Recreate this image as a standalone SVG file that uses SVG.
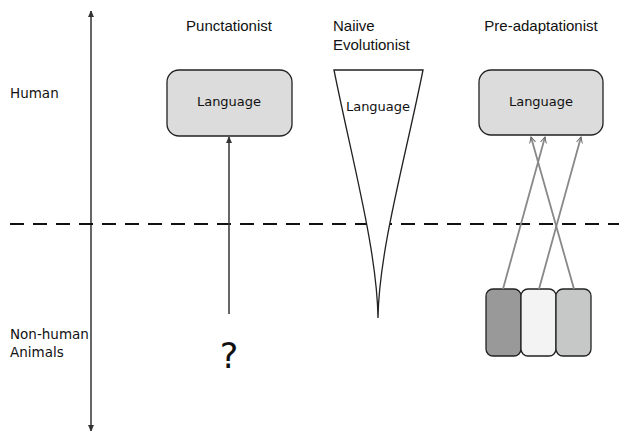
<svg xmlns="http://www.w3.org/2000/svg" width="619" height="434" viewBox="0 0 619 434">
<defs>
<marker id="ah" markerWidth="8" markerHeight="8" refX="6" refY="4" orient="auto-start-reverse" markerUnits="userSpaceOnUse">
<path d="M0,1.5 L6,4 L0,6.5 Z" fill="#333" stroke="#333" stroke-width="0.8"/>
</marker>
<marker id="ahg" markerWidth="8" markerHeight="8" refX="6" refY="4" orient="auto" markerUnits="userSpaceOnUse">
<path d="M0,1 L6,4 L0,7" fill="none" stroke="#666" stroke-width="1"/>
</marker>
</defs>
<style>
.hdr{font-family:"Liberation Sans",Arial,sans-serif;font-size:15px;fill:#111}
.side{font-family:"DejaVu Sans",Verdana,sans-serif;font-size:13.5px;fill:#111}
.lang{font-family:"DejaVu Sans",Verdana,sans-serif;font-size:13px;fill:#111;text-anchor:middle}
.box{fill:#dcdcdc;stroke:#222;stroke-width:1.3}
.conn{stroke:#333;stroke-width:1.5;fill:none}
.gconn{stroke:#888;stroke-width:1.8;fill:none}
</style>
<rect width="619" height="434" fill="#fff"/>
<g id="axis">
<line x1="91" y1="11" x2="91" y2="431" class="conn" marker-start="url(#ah)" marker-end="url(#ah)"/>
</g>
<line id="divider" x1="10" y1="224" x2="619" y2="224" stroke="#111" stroke-width="2.2" stroke-dasharray="14,9"/>
<g id="labels">
<text class="side" x="10" y="98">Human</text>
<text class="side" x="10" y="339">Non-human</text>
<text class="side" x="10" y="357">Animals</text>
<text class="hdr" x="229" y="31" text-anchor="middle">Punctationist</text>
<text class="hdr" x="333" y="31">Naiive</text>
<text class="hdr" x="333" y="50">Evolutionist</text>
<text class="hdr" x="541" y="31" text-anchor="middle">Pre-adaptationist</text>
</g>
<g id="punct-language">
<rect class="box" x="167" y="70" width="125" height="66" rx="12"/>
<text class="lang" x="229" y="106">Language</text>
</g>
<g id="question">
<text x="229" y="368" font-family="DejaVu Sans,sans-serif" font-size="35" text-anchor="middle" fill="#111">?</text>
</g>
<g id="funnel">
<path d="M334,70 L423,70 C405,160 379,250 378,318 C377,250 352,160 334,70 Z" fill="#fff" stroke="#222" stroke-width="1.3"/>
<text class="lang" x="378" y="111">Language</text>
</g>
<g id="pre-language">
<rect class="box" x="479" y="70" width="124" height="65" rx="12"/>
<text class="lang" x="541" y="106">Language</text>
</g>
<g id="trait1"><rect x="486" y="289" width="35" height="67" rx="7" fill="#999" stroke="#222" stroke-width="1.3"/></g>
<g id="trait2"><rect x="521" y="289" width="35" height="67" rx="7" fill="#f3f3f3" stroke="#222" stroke-width="1.3"/></g>
<g id="trait3"><rect x="556" y="289" width="35" height="67" rx="7" fill="#c6c8c7" stroke="#222" stroke-width="1.3"/></g>
<g id="connectors">
<line x1="229" y1="314" x2="229" y2="137" class="conn" marker-end="url(#ah)"/>
<line x1="503" y1="289" x2="545" y2="137" class="gconn" marker-end="url(#ahg)"/>
<line x1="539" y1="289" x2="581" y2="137" class="gconn" marker-end="url(#ahg)"/>
<line x1="574" y1="289" x2="531" y2="137" class="gconn" marker-end="url(#ahg)"/>
</g>
</svg>
